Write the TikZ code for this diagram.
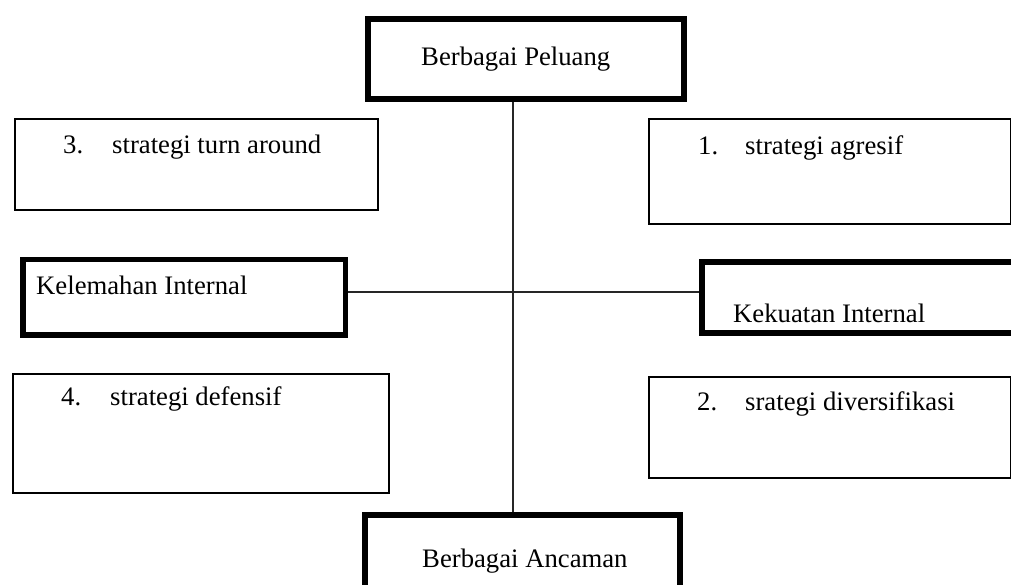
\documentclass[tikz,border=0pt]{standalone}
\usepackage{fontspec}
\setmainfont{Liberation Serif}
\begin{document}
\begin{tikzpicture}[x=1pt,y=-1pt,
  thickbox/.style={draw=black,line width=5.5pt,rectangle,inner sep=0pt,anchor=north west},
  thinbox/.style={draw=black,line width=2pt,rectangle,inner sep=0pt,anchor=north west},
  lbl/.style={anchor=base west,inner sep=0pt,font=\fontsize{26.7}{32}\selectfont},
  conn/.style={draw=black!85,line width=1.1pt}]
\useasboundingbox (0,0) rectangle (1011,584);
\clip (0,0) rectangle (1011,584);
% boxes
\node[thickbox,minimum width=316pt,minimum height=80pt] (top) at (365,16) {};
\node[thinbox,minimum width=363pt,minimum height=91pt] (s3) at (14,118) {};
\node[thinbox,minimum width=362pt,minimum height=105pt] (s1) at (648,118) {};
\node[thickbox,minimum width=322.5pt,minimum height=75.5pt] (weak) at (20,256.5) {};
\node[thickbox,minimum width=316pt,minimum height=71pt] (strong) at (699,259) {};
\node[thinbox,minimum width=376pt,minimum height=119pt] (s4) at (12,372.5) {};
\node[thinbox,minimum width=362pt,minimum height=101pt] (s2) at (648,375.5) {};
\node[thickbox,minimum width=315pt,minimum height=90pt] (bot) at (362,512) {};
% labels
\node[lbl] (ttop) at (421,65) {Berbagai Peluang};
\node[lbl] (n3) at (63,153) {3.};
\node[lbl] (t3) at (112,153) {strategi turn around};
\node[lbl] (n1) at (698,154) {1.};
\node[lbl] (t1) at (745,154) {strategi agresif};
\node[lbl] (tweak) at (36,294) {Kelemahan Internal};
\node[lbl] (tstrong) at (733,322) {Kekuatan Internal};
\node[lbl] (n4) at (61,405) {4.};
\node[lbl] (t4) at (110,405) {strategi defensif};
\node[lbl] (n2) at (697,410) {2.};
\node[lbl] (t2) at (745,410) {srategi diversifikasi};
\node[lbl] (tbot) at (422,567) {Berbagai Ancaman};
% connectors
\coordinate (vx) at (513,0);
\coordinate (hy) at (0,292);
\draw[conn] (top.south -| vx) -- (bot.north -| vx);
\draw[conn] (weak.east |- hy) -- (strong.west |- hy);
\end{tikzpicture}
\end{document}
